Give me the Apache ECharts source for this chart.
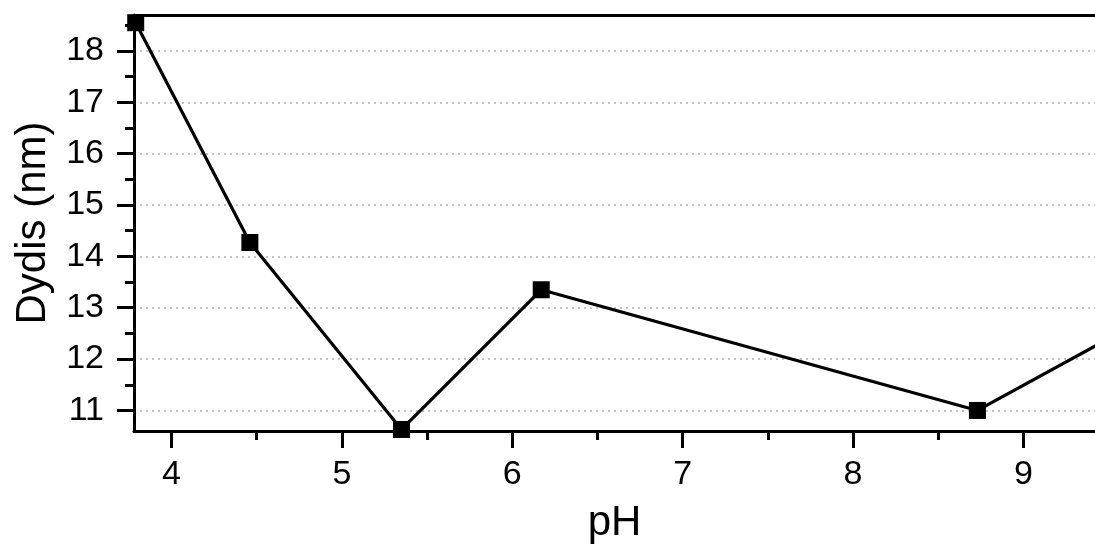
<!DOCTYPE html>
<html>
<head>
<meta charset="utf-8">
<script src="https://cdn.jsdelivr.net/npm/echarts@6/dist/echarts.min.js"></script>
<style>html,body{margin:0;padding:0;background:#fff;}#c{width:1095px;height:549px;}</style>
</head>
<body>
<div id="c"></div>
<script>
const phValues = [3.79, 4.46, 5.35, 6.17, 8.73, 9.6];
const dydisValues = [18.55, 14.27, 10.63, 13.35, 11.0, 12.58];
const xTickLabels = [4, 5, 6, 7, 8, 9];
const yTickLabels = [11, 12, 13, 14, 15, 16, 17, 18];
const xRange = [3.78, 9.42];
const yRange = [10.6, 18.7];

const FONT = "'Liberation Sans', Arial, sans-serif";
const chart = echarts.init(document.getElementById('c'), null, {renderer: 'canvas'});
const isInt = v => Math.abs(v - Math.round(v)) < 1e-9;

chart.setOption({
  animation: false,
  backgroundColor: '#fff',
  grid: {left: 134, right: -5, top: 15, bottom: 114, containLabel: false},
  xAxis: [{
    type: 'value', position: 'bottom',
    min: xRange[0], max: xRange[1], splitNumber: 5, minInterval: 1, maxInterval: 1,
    name: 'pH', nameLocation: 'middle', nameGap: 71,
    nameTextStyle: {fontFamily: FONT, fontSize: 42, color: '#000'},
    axisLine: {show: true, onZero: false, lineStyle: {color: '#000', width: 3}},
    axisTick: {show: true, inside: false, length: 17, lineStyle: {color: '#000', width: 3}, customValues: xTickLabels},
    minorTick: {show: true, splitNumber: 2, length: 9, lineStyle: {color: '#000', width: 3}},
    axisLabel: {show: true, margin: 27, fontFamily: FONT, fontSize: 34, color: '#000',
      customValues: xTickLabels,
      formatter: v => isInt(v) ? String(Math.round(v)) : ''},
    splitLine: {show: false}
  }, {
    type: 'value', position: 'top',
    min: xRange[0], max: xRange[1],
    axisLine: {show: true, onZero: false, lineStyle: {color: '#000', width: 3}},
    axisTick: {show: false}, axisLabel: {show: false}, splitLine: {show: false}
  }],
  yAxis: [{
    type: 'value', position: 'left',
    min: yRange[0], max: yRange[1], splitNumber: 8, minInterval: 1, maxInterval: 1,
    name: 'Dydis (nm)', nameLocation: 'middle', nameGap: 80, nameRotate: 90,
    nameTextStyle: {fontFamily: FONT, fontSize: 42, color: '#000'},
    axisLine: {show: true, onZero: false, lineStyle: {color: '#000', width: 3}},
    axisTick: {show: true, inside: false, length: 17, lineStyle: {color: '#000', width: 3}, customValues: yTickLabels},
    minorTick: {show: true, splitNumber: 2, length: 9, lineStyle: {color: '#000', width: 3}},
    axisLabel: {show: true, margin: 30, fontFamily: FONT, fontSize: 34, color: '#000',
      customValues: yTickLabels,
      formatter: v => isInt(v) ? String(Math.round(v)) : ''},
    splitLine: {show: true, lineStyle: {color: '#b0b0b0', width: 1.5, type: [2, 4]}}
  }],
  series: [{
    type: 'line',
    xAxisIndex: 0, yAxisIndex: 0,
    data: phValues.map((x, i) => [x, dydisValues[i]]),
    clip: true,
    symbol: 'rect', symbolSize: 17,
    itemStyle: {color: '#000'},
    lineStyle: {color: '#000', width: 3.2},
    z: 3
  }]
});
</script>
</body>
</html>
